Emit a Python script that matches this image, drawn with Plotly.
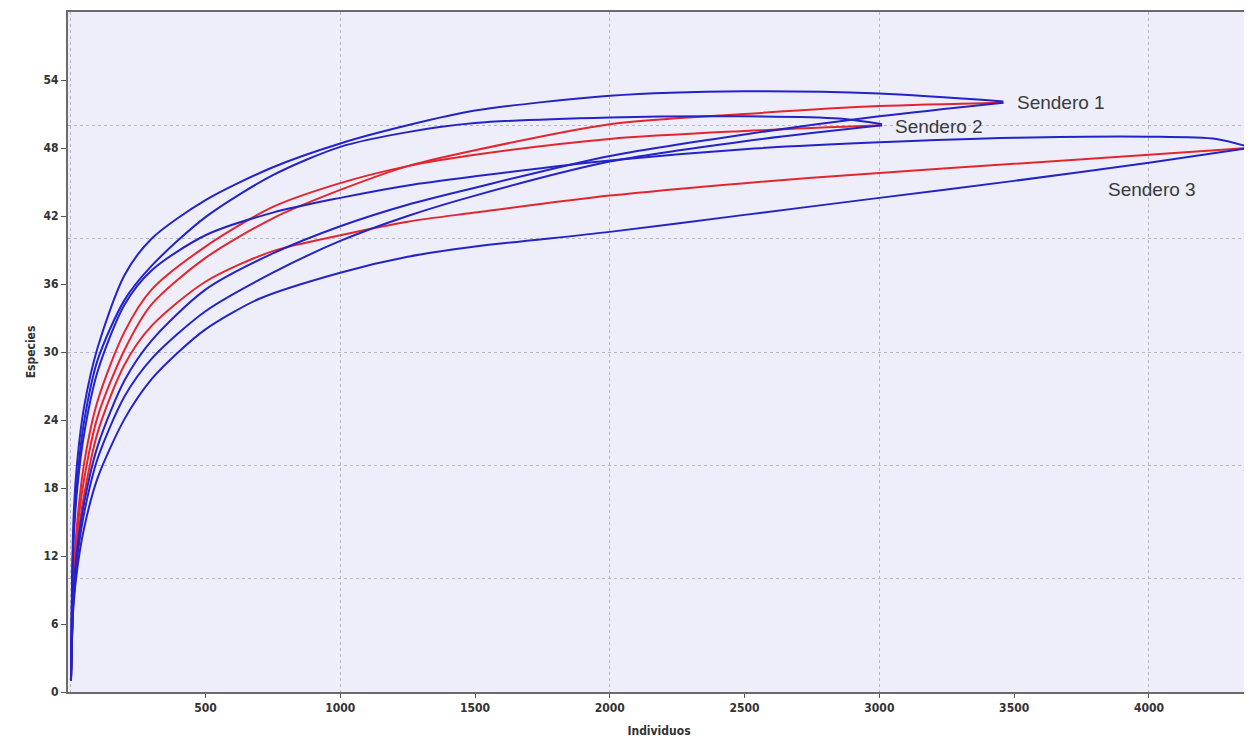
import plotly.graph_objects as go

# ---- data (Individuos, Especies) ----
s1_up_x = [1, 10, 25, 50, 100, 200, 300, 500, 750, 1000, 1250, 1500, 2000, 2500, 3000, 3460]
s1_up_y = [1, 15, 20.5, 25.2, 30.4, 36.8, 40.0, 43.4, 46.3, 48.4, 50.0, 51.3, 52.6, 53.0, 52.8, 52.1]
s1_mid_x = [1, 10, 25, 50, 100, 200, 300, 500, 750, 1000, 1250, 1500, 2000, 2500, 3000, 3460]
s1_mid_y = [1, 9.5, 14.3, 18.8, 24.3, 30.2, 34.2, 38.3, 41.8, 44.3, 46.4, 47.8, 50.1, 51.0, 51.7, 52.0]
s1_low_x = [1, 10, 25, 50, 100, 200, 300, 500, 750, 1000, 1250, 1500, 2000, 2500, 3000, 3460]
s1_low_y = [1, 8.5, 12.8, 16.7, 21.7, 27.5, 31.0, 35.5, 38.7, 41.1, 43.0, 44.5, 47.3, 49.2, 50.8, 52.0]

s2_up_x = [1, 10, 25, 50, 100, 200, 300, 500, 750, 1000, 1250, 1500, 2000, 2500, 2850, 3010]
s2_up_y = [1, 13.5, 18.9, 23.9, 29.3, 34.6, 37.6, 41.9, 45.6, 48.1, 49.4, 50.2, 50.7, 50.8, 50.6, 50.1]
s2_mid_x = [1, 10, 25, 50, 100, 200, 300, 500, 750, 1000, 1250, 1500, 2000, 2500, 3010]
s2_mid_y = [1, 10.2, 15.2, 20.2, 25.7, 31.8, 35.5, 39.3, 42.8, 44.9, 46.4, 47.4, 48.8, 49.5, 50.0]
s2_low_x = [1, 10, 25, 50, 100, 200, 300, 500, 750, 1000, 1250, 1500, 2000, 2500, 3010]
s2_low_y = [1, 8, 12, 15.8, 20.6, 26.1, 29.4, 33.6, 37.0, 39.8, 42.0, 43.8, 46.8, 48.6, 50.0]

s3_up_x = [1, 10, 25, 50, 100, 200, 300, 500, 750, 1000, 1250, 1500, 2000, 2500, 3000, 3500, 4000, 4250, 4370]
s3_up_y = [1, 13, 18.1, 22.8, 28.3, 34.2, 37.2, 40.3, 42.3, 43.6, 44.7, 45.5, 46.9, 47.9, 48.5, 48.9, 49.0, 48.8, 48.1]
s3_mid_x = [1, 10, 25, 50, 100, 200, 300, 500, 750, 1000, 1250, 1500, 2000, 2500, 3000, 3500, 4000, 4370]
s3_mid_y = [1, 8.8, 13.2, 17.4, 22.9, 28.9, 32.3, 36.2, 38.9, 40.3, 41.5, 42.3, 43.8, 44.9, 45.8, 46.6, 47.4, 48.0]
s3_low_x = [1, 10, 25, 50, 100, 200, 300, 400, 500, 700, 1000, 1250, 1500, 2000, 2500, 3000, 3500, 4000, 4370]
s3_low_y = [1, 7.5, 11, 14.5, 18.9, 24.1, 27.6, 30.0, 32.0, 34.7, 37.0, 38.4, 39.3, 40.6, 42.1, 43.6, 45.1, 46.7, 48.0]

labels = ["Sendero 1", "Sendero 2", "Sendero 3"]
label_x = [3505, 3052, 3840]
label_y = [52.0, 49.9, 44.3]

x_ticks = [500, 1000, 1500, 2000, 2500, 3000, 3500, 4000]
y_ticks = [0, 6, 12, 18, 24, 30, 36, 42, 48, 54]

BLUE = "#2323c8"
RED = "#e3262e"

fig = go.Figure()

curves = [
    (s1_mid_x, s1_mid_y, RED), (s2_mid_x, s2_mid_y, RED), (s3_mid_x, s3_mid_y, RED),
    (s1_up_x, s1_up_y, BLUE), (s1_low_x, s1_low_y, BLUE),
    (s2_up_x, s2_up_y, BLUE), (s2_low_x, s2_low_y, BLUE),
    (s3_up_x, s3_up_y, BLUE), (s3_low_x, s3_low_y, BLUE),
]
for xs, ys, col in curves:
    fig.add_trace(go.Scatter(x=xs, y=ys, mode="lines",
                             line=dict(color=col, width=2, shape="spline", smoothing=0.8),
                             showlegend=False, hoverinfo="skip"))
# empty trace so that the grid-only overlay axes exist
fig.add_trace(go.Scatter(x=[], y=[], xaxis="x2", yaxis="y2", showlegend=False, hoverinfo="skip"))

XR = [-10, 4375]
YR = [0, 60]
FONT = "Liberation Sans Narrow, DejaVu Sans Condensed, Arial Narrow, Arial"
tickfont = dict(family=FONT, size=12, color="#333333", weight="bold")

fig.update_layout(
    width=1244, height=730,
    margin=dict(l=60, r=0, t=4, b=46),
    paper_bgcolor="white",
    plot_bgcolor="#eeeefb",
    xaxis=dict(range=XR, tickvals=x_ticks, showgrid=False, zeroline=False,
               ticks="outside", ticklen=4, tickcolor="#555555", tickfont=tickfont,
               showline=True, linecolor="#6b6b6b", linewidth=2, mirror=True,
               title=dict(text="Individuos", standoff=12,
                          font=dict(family=FONT, size=12, color="#333333", weight="bold"))),
    yaxis=dict(range=YR, tickvals=y_ticks, showgrid=False, zeroline=False,
               ticks="outside", ticklen=5, tickcolor="#555555", tickfont=tickfont,
               showline=True, linecolor="#6b6b6b", linewidth=2, mirror=True,
               title=dict(text="Especies", standoff=5,
                          font=dict(family=FONT, size=12, color="#333333", weight="bold"))),
    # grid-only overlay axes
    xaxis2=dict(overlaying="x", anchor="y2", range=XR, dtick=1000, tick0=0,
                showticklabels=False, ticks="", showline=False,
                showgrid=True, gridcolor="#b6b6c8", griddash="dot", gridwidth=1, zeroline=False),
    yaxis2=dict(overlaying="y", anchor="x2", range=YR, dtick=10, tick0=0,
                showticklabels=False, ticks="", showline=False,
                showgrid=True, gridcolor="#b6b6c8", griddash="dot", gridwidth=1, zeroline=False),
)

for t, lx, ly in zip(labels, label_x, label_y):
    fig.add_annotation(x=lx, y=ly, text=t, showarrow=False,
                       xanchor="left", yanchor="middle",
                       font=dict(family="Liberation Sans, Arial", size=19, color="#3a3a3a"))

fig.write_html("out.html")
